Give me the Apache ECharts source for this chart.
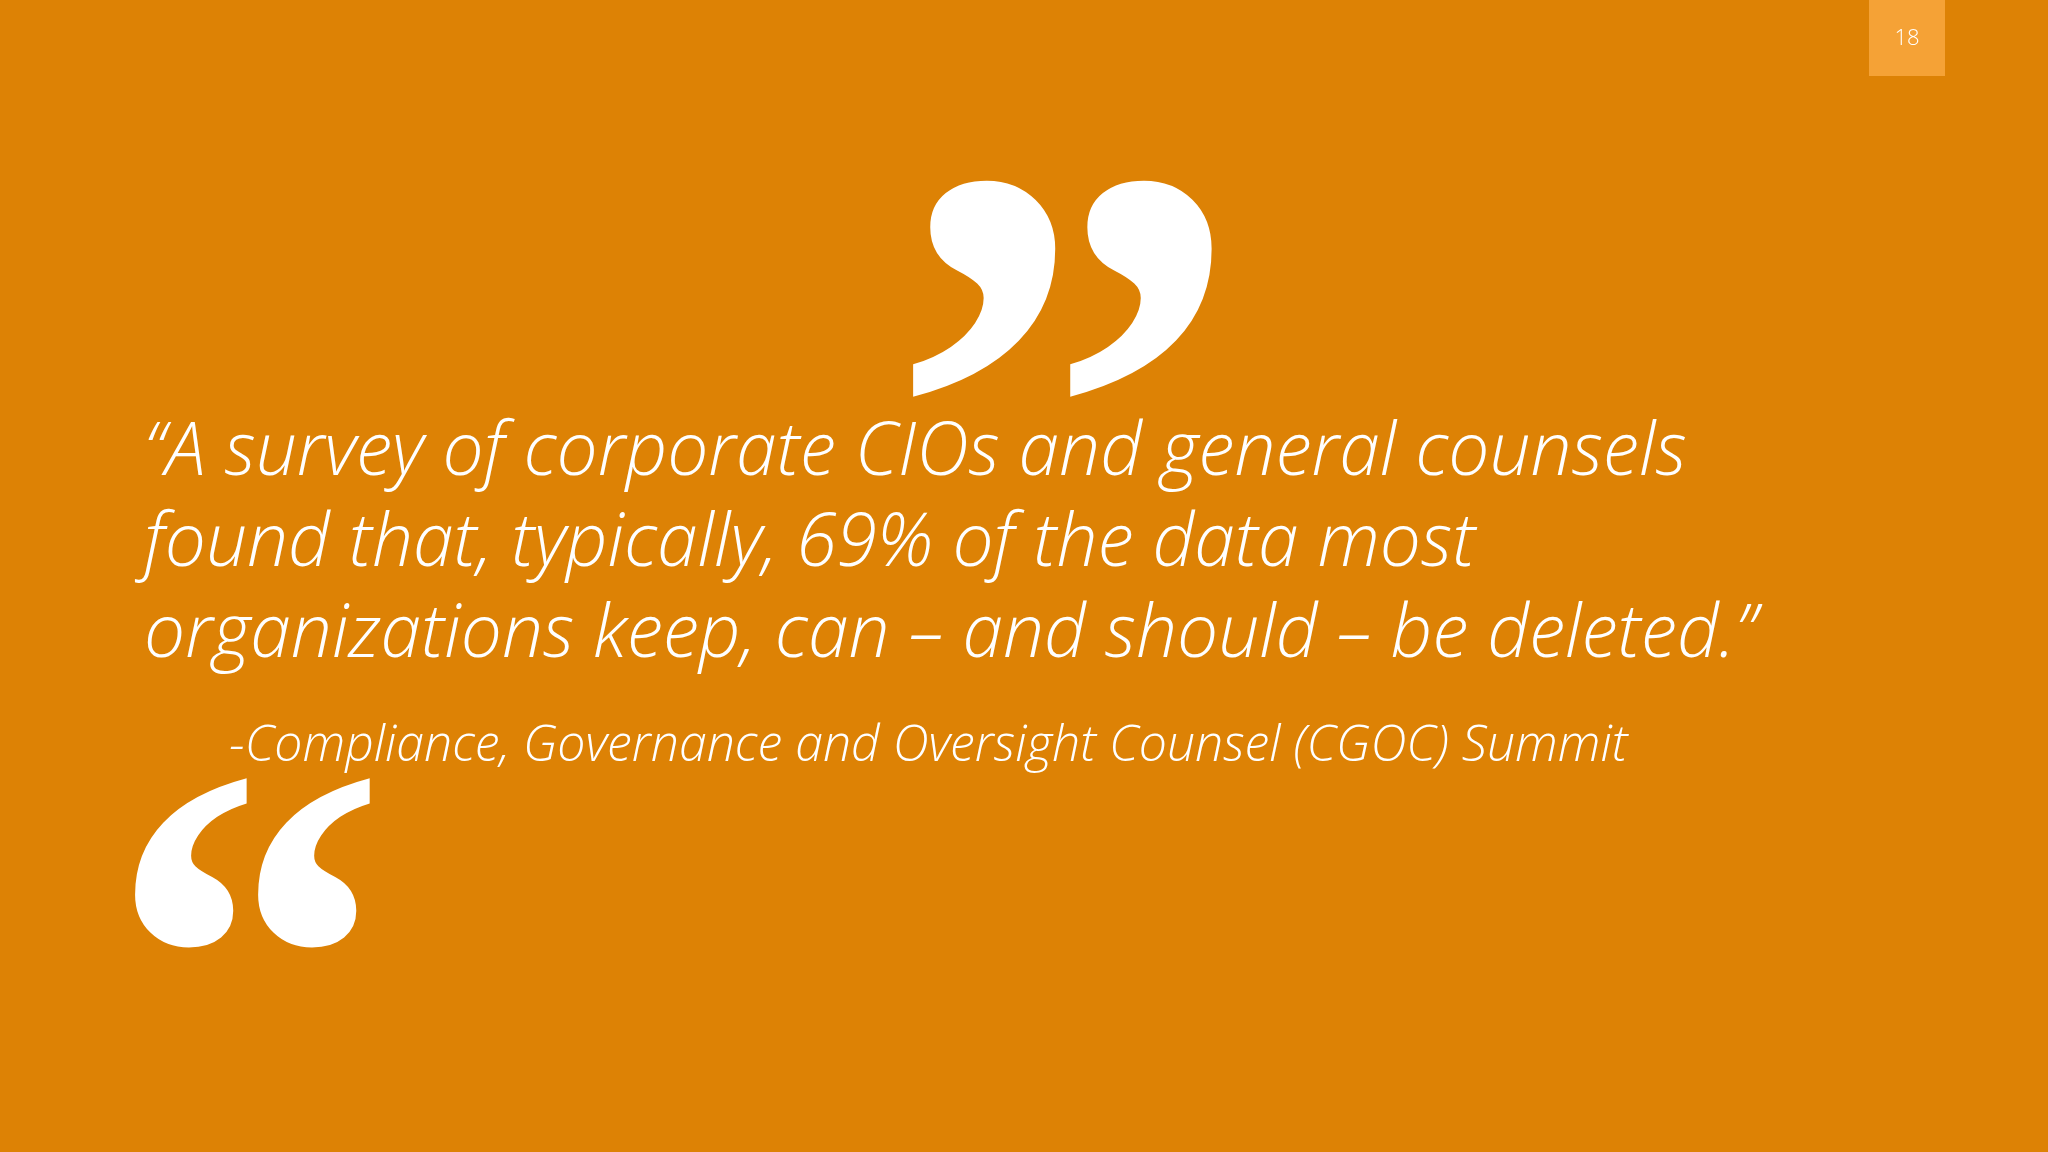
<!DOCTYPE html>
<html>
<head>
<meta charset="utf-8">
<script src="https://cdn.jsdelivr.net/npm/echarts@6/dist/echarts.min.js"></script>
<style>
  html, body { margin: 0; padding: 0; background: #dd8205; }
  #main { width: 2048px; height: 1152px; }
</style>
</head>
<body>
<div id="main"></div>
<script>
var quoteLines = [
  '\u201CA survey of corporate CIOs and general counsels',
  'found that, typically, 69% of the data most',
  'organizations keep, can \u2013 and should \u2013 be deleted.\u201D'
];
var attribution = '-Compliance, Governance and Oversight Counsel (CGOC) Summit';
var pageNumber = '18';

var chart = echarts.init(document.getElementById('main'));
var elements = [
  { type: 'rect', shape: { x: 1869, y: 0, width: 76, height: 76 }, style: { fill: '#f5a236' } },
  { type: 'text', x: 1907, y: 39, style: { text: pageNumber, fill: '#fff', font: '300 22px "Open Sans"', align: 'center', verticalAlign: 'middle' } },
  { type: 'text', x: 1065, y: 114, style: { text: '\u201D', fill: '#fff', font: 'bold 715px "Liberation Serif"', align: 'center', verticalAlign: 'top' } },
  { type: 'text', x: 248, y: 726, style: { text: '\u201C', fill: '#fff', font: 'bold 560px "Liberation Serif"', align: 'center', verticalAlign: 'top' } },
  { type: 'text', x: 229, y: 747, style: { text: attribution, fill: '#fff', font: 'italic 300 50px "Open Sans"', verticalAlign: 'middle' } }
];
quoteLines.forEach(function (line, i) {
  elements.push({ type: 'text', x: 144, y: 454 + i * 91, style: { text: line, fill: '#fff', font: 'italic 300 73px "Open Sans"', verticalAlign: 'middle' } });
});
chart.setOption({ backgroundColor: '#dd8205', graphic: { elements: elements } });
</script>
</body>
</html>
